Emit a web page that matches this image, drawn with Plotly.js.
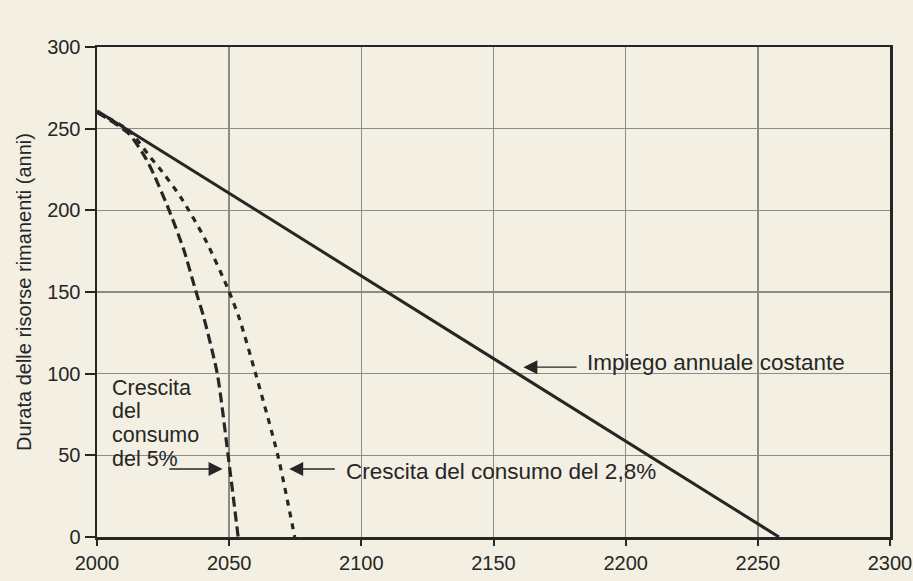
<!DOCTYPE html>
<html>
<head>
<meta charset="utf-8">
<script src="https://cdn.plot.ly/plotly-3.0.1.min.js"></script>
<style>html,body{margin:0;padding:0;background:#f3f0e3;}</style>
</head>
<body>
<div id="chart" style="width:913px;height:581px;"></div>
<script>
// Constant annual use
const constYears = [2000, 2100, 2200, 2258];
const constVals  = [261, 160, 59, 0];
// 5% consumption growth
const g5Years = [2000, 2012, 2018.4, 2021.5, 2026.8, 2032.8, 2037.3, 2040.3, 2045.5, 2049.6, 2053.4];
const g5Vals  = [260, 247, 232, 222, 202, 176, 151, 135, 100, 50, 0];
// 2.8% consumption growth
const g28Years = [2000, 2012, 2020.4, 2024, 2031.7, 2041, 2049.8, 2054, 2060, 2068.4, 2074.8];
const g28Vals  = [260, 249, 232, 225, 208, 182, 151, 133, 100, 50, 0];

const xTicks = [2000, 2050, 2100, 2150, 2200, 2250, 2300];
const yTicks = [0, 50, 100, 150, 200, 250, 300];
const yTitle = "Durata delle risorse rimanenti (anni)";
const labelConst = "Impiego annuale costante";
const label28 = "Crescita del consumo del 2,8%";
const label5Lines = ["Crescita", "del", "consumo", "del 5%"];

const ink = "#262626";
const FONT = "Liberation Sans, Arial, sans-serif";

const traces = [
  {x: constYears, y: constVals, mode: "lines", line: {color: ink, width: 3}},
  {x: g5Years, y: g5Vals, mode: "lines", line: {color: ink, width: 3.2, dash: "10px,5px", shape: "spline", smoothing: 0.7}},
  {x: g28Years, y: g28Vals, mode: "lines", line: {color: ink, width: 3.2, dash: "6px,6px", shape: "spline", smoothing: 0.7}}
];

const arrowStyle = {showarrow: true, arrowhead: 2, arrowsize: 2, arrowwidth: 1.4, arrowcolor: ink, axref: "x", ayref: "y", text: ""};
const annotations = [
  Object.assign({x: 2161.3, y: 104, ax: 2182, ay: 104}, arrowStyle),
  {x: 2184.5, y: 107, text: labelConst, showarrow: false, xanchor: "left", yanchor: "middle",
   font: {family: FONT, size: 22.5, color: ink}},
  Object.assign({x: 2072.7, y: 41.6, ax: 2090.5, ay: 41.6}, arrowStyle),
  {x: 2093.3, y: 40, text: label28, showarrow: false, xanchor: "left", yanchor: "middle",
   font: {family: FONT, size: 22.5, color: ink}},
  Object.assign({x: 2047.5, y: 41.6, ax: 2026.8, ay: 41.6}, arrowStyle)
];
const lineY = [91.5, 77, 62.5, 48];
label5Lines.forEach((t, i) => {
  annotations.push({x: 2005.3, y: lineY[i], text: t, showarrow: false, xanchor: "left", yanchor: "middle",
    borderpad: 0, font: {family: FONT, size: 21.5, color: ink}});
});

const layout = {
  width: 913, height: 581,
  margin: {l: 97, r: 23, t: 47, b: 44},
  paper_bgcolor: "#f3f0e3",
  plot_bgcolor: "#f3f0e3",
  showlegend: false,
  font: {family: FONT, color: ink},
  xaxis: {
    range: [2000, 2300], tickvals: xTicks, ticktext: xTicks.map(String),
    showgrid: true, gridcolor: "#8c8b86", gridwidth: 1.5,
    showline: true, linecolor: ink, linewidth: 2.5, mirror: true,
    ticks: "outside", ticklen: 6, tickwidth: 2, tickcolor: ink,
    ticklabeloverflow: "allow",
    tickfont: {family: FONT, size: 20, color: ink}, zeroline: false
  },
  yaxis: {
    range: [0, 300], tickvals: yTicks, ticktext: yTicks.map(String),
    showgrid: true, gridcolor: "#8c8b86", gridwidth: 1.5,
    showline: true, linecolor: ink, linewidth: 2.5, mirror: true,
    ticks: "outside", ticklen: 10, tickwidth: 2, tickcolor: ink,
    tickfont: {family: FONT, size: 20, color: ink}, zeroline: false,
    title: {text: yTitle, font: {family: FONT, size: 20, color: ink}, standoff: 10}
  },
  annotations: annotations
};

Plotly.newPlot("chart", traces, layout, {displayModeBar: false, staticPlot: true});
</script>
</body>
</html>
